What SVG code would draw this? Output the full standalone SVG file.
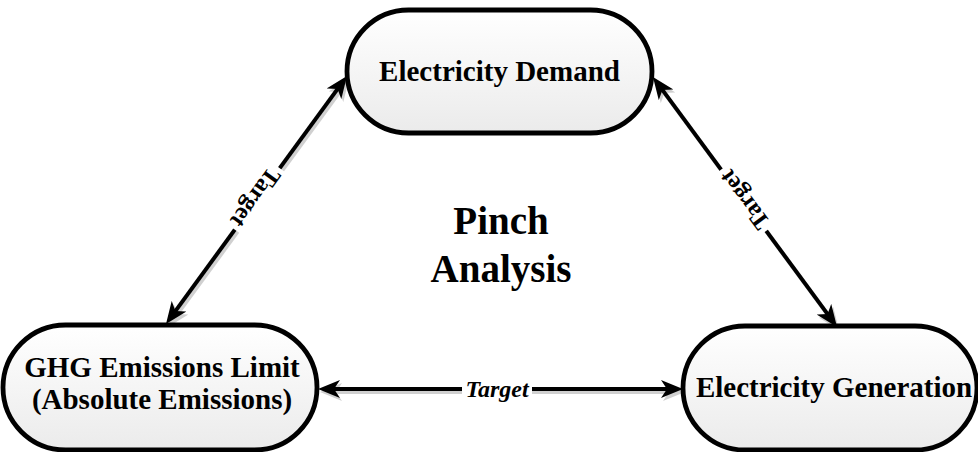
<svg xmlns="http://www.w3.org/2000/svg" width="978" height="452" viewBox="0 0 978 452">
  <defs>
    <linearGradient id="nodeFill" x1="0" y1="0" x2="0" y2="1">
      <stop offset="0" stop-color="#ffffff"/>
      <stop offset="1" stop-color="#ebebeb"/>
    </linearGradient>
    <marker id="arrow" markerUnits="userSpaceOnUse" viewBox="0 0 22 18" markerWidth="22" markerHeight="18" refX="12" refY="9" orient="auto-start-reverse">
      <path d="M0,0 L22,9 L0,18 L6,9 Z" fill="#000"/>
    </marker>
    <marker id="arrowShadow" markerUnits="userSpaceOnUse" viewBox="0 0 22 18" markerWidth="22" markerHeight="18" refX="12" refY="9" orient="auto-start-reverse">
      <path d="M0,0 L22,9 L0,18 L6,9 Z" fill="#d0d0d0"/>
    </marker>
    <style>
      .node { fill: url(#nodeFill); stroke: #000; stroke-width: 4.8; }
      text { font-family: 'Liberation Serif', 'Times New Roman', Times, serif; font-weight: bold; fill: #000; text-anchor: middle; }
      .ntext { font-size: 29px; }
      .title { font-size: 39px; }
      .conn { stroke: #000; stroke-width: 4; fill: none; marker-start: url(#arrow); marker-end: url(#arrow); }
      .shadow { stroke: #d0d0d0; stroke-width: 4; fill: none; marker-start: url(#arrowShadow); marker-end: url(#arrowShadow); }
      .lbl { font-size: 24px; }
      .lblbg { fill: #ffffff; }
    </style>
  </defs>

  <g id="connectors">
    <g id="shadows" transform="translate(2,3)">
      <path class="shadow" d="M171.9,315.9 L341.1,84.1"/>
      <path class="shadow" d="M658.9,85.1 L831.1,318.9"/>
      <path class="shadow" d="M328,389 L673,389"/>
    </g>
    <g id="conn-demand-ghg">
      <path class="conn" d="M171.9,315.9 L341.1,84.1"/>
      <g transform="translate(256,198) rotate(126.1)">
        <rect class="lblbg" x="-38" y="-12" width="76" height="24"/>
        <text class="lbl" x="0" y="0" dy="0.35em">Target</text>
      </g>
    </g>
    <g id="conn-demand-generation">
      <path class="conn" d="M658.9,85.1 L831.1,318.9"/>
      <g transform="translate(744,200) rotate(-126.4)">
        <rect class="lblbg" x="-38" y="-12" width="76" height="24"/>
        <text class="lbl" x="0" y="0" dy="0.35em">Target</text>
      </g>
    </g>
    <g id="conn-ghg-generation">
      <path class="conn" d="M328,389 L673,389"/>
      <rect class="lblbg" x="462" y="377" width="70" height="24"/>
      <text class="lbl" x="497" y="389" dy="0.35em" font-style="italic">Target</text>
    </g>
  </g>

  <g id="node-demand">
    <rect class="node" x="347" y="10" width="305" height="123" rx="61.5" ry="61.5"/>
    <text class="ntext" x="499.5" y="81">Electricity Demand</text>
  </g>

  <g id="node-ghg">
    <rect class="node" x="3" y="325" width="314" height="125" rx="62.5" ry="62.5"/>
    <text class="ntext" x="162" y="377">GHG Emissions Limit</text>
    <text class="ntext" x="162" y="409">(Absolute Emissions)</text>
  </g>

  <g id="node-generation">
    <rect class="node" x="683" y="326" width="294" height="124" rx="62" ry="62"/>
    <text class="ntext" x="834" y="397">Electricity Generation</text>
  </g>

  <g id="center-label">
    <text class="title" x="501" y="234">Pinch</text>
    <text class="title" x="501" y="282">Analysis</text>
  </g>
</svg>
